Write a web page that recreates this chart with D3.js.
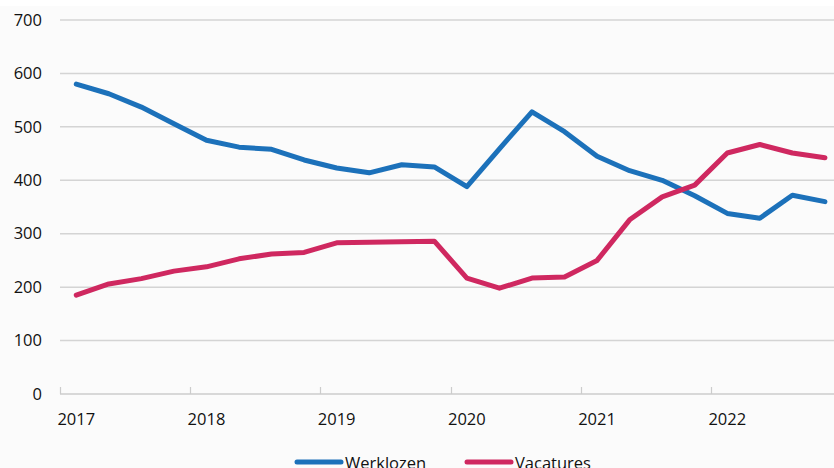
<!DOCTYPE html>
<head>
    <meta charset="utf-8">
    <title>Werklozen en vacatures</title>
    <script src="https://d3js.org/d3.v7.min.js"></script>
    <style>
        body { margin: 0; background: #fff; }
        svg { display: block; font-family: 'Open Sans', sans-serif; }
    </style>
</head>
<body>
    <svg></svg>
</body>

<script>
    // Data (x 1000), quarterly 2017 Q1 - 2022 Q4
    var years = ['2017', '2018', '2019', '2020', '2021', '2022'];
    var quarters = [];
    years.forEach(function (y) { [1, 2, 3, 4].forEach(function (q) { quarters.push(y + 'Q' + q); }); });

    var werklozen = [580, 562, 537, 506, 475, 462, 458, 438, 423, 414, 429, 425,
                     388, 459, 528, 491, 445, 418, 400, 371, 338, 329, 372, 360];
    var vacatures = [185, 206, 216, 230, 238, 253, 262, 265, 283, 284, 285, 286,
                     217, 198, 217, 219, 250, 326, 369, 391, 451, 467, 451, 442];
    var yTicks = [0, 100, 200, 300, 400, 500, 600, 700];

    var series = [
        { name: 'Werklozen', values: werklozen, color: '#1c71ba' },
        { name: 'Vacatures', values: vacatures, color: '#cf2860' }
    ];

    var vWidth = 834;
    var vHeight = 468;

    var svg = d3.select('svg').attr('width', vWidth).attr('height', vHeight);

    // light chart background below the (cropped) title strip
    svg.append('rect').attr('x', 0).attr('y', 6).attr('width', vWidth).attr('height', vHeight - 6)
        .attr('fill', '#fbfbfb');

    // Scales
    var x = d3.scaleBand().domain(quarters).range([60, 60 + 24 * 32.55]).padding(0);
    var y = d3.scaleLinear().domain([0, 700]).range([394, 20]);
    var xc = function (q) { return x(q) + x.bandwidth() / 2; };

    // Gridlines
    svg.append('g').selectAll('line')
        .data(yTicks.filter(function (d) { return d > 0; }))
        .enter().append('line')
        .attr('x1', 60).attr('x2', vWidth)
        .attr('y1', function (d) { return y(d); })
        .attr('y2', function (d) { return y(d); })
        .attr('stroke', '#d4d4d4').attr('stroke-width', 1.5);

    // Y labels
    svg.append('g').selectAll('text')
        .data(yTicks).enter().append('text')
        .attr('x', 42).attr('y', function (d) { return y(d); })
        .attr('dy', '0.35em')
        .attr('text-anchor', 'end')
        .attr('font-size', '16.5px').attr('fill', '#111')
        .text(function (d) { return d; });

    // X axis line + inside ticks at year boundaries
    svg.append('line')
        .attr('x1', 60).attr('x2', vWidth).attr('y1', y(0)).attr('y2', y(0))
        .attr('stroke', '#cccccc').attr('stroke-width', 1.5);

    svg.append('g').selectAll('line')
        .data(years).enter().append('line')
        .attr('x1', function (d) { return Math.round(x(d + 'Q1')) + 0.5; })
        .attr('x2', function (d) { return Math.round(x(d + 'Q1')) + 0.5; })
        .attr('y1', y(0) - 7).attr('y2', y(0))
        .attr('stroke', '#cccccc').attr('stroke-width', 1.2);

    svg.append('g').selectAll('text')
        .data(years).enter().append('text')
        .attr('x', function (d) { return xc(d + 'Q1'); })
        .attr('y', 425)
        .attr('text-anchor', 'middle')
        .attr('font-size', '16.5px').attr('fill', '#111')
        .text(function (d) { return d; });

    // Lines
    var line = d3.line()
        .x(function (d, i) { return xc(quarters[i]); })
        .y(function (d) { return y(d); });

    svg.append('g').selectAll('path')
        .data(series).enter().append('path')
        .attr('d', function (s) { return line(s.values); })
        .attr('fill', 'none')
        .attr('stroke', function (s) { return s.color; })
        .attr('stroke-width', 5)
        .attr('stroke-linejoin', 'round')
        .attr('stroke-linecap', 'round');

    // Legend
    var legendX = [295, 465];
    var lg = svg.append('g').selectAll('g')
        .data(series).enter().append('g')
        .attr('transform', function (s, i) { return 'translate(' + legendX[i] + ',462)'; });
    lg.append('line')
        .attr('x1', 2).attr('x2', 46).attr('y1', 0).attr('y2', 0)
        .attr('stroke', function (s) { return s.color; })
        .attr('stroke-width', 5).attr('stroke-linecap', 'round');
    lg.append('text')
        .attr('x', 50).attr('y', 7)
        .attr('font-size', '16.5px').attr('fill', '#111')
        .text(function (s) { return s.name; });
</script>
